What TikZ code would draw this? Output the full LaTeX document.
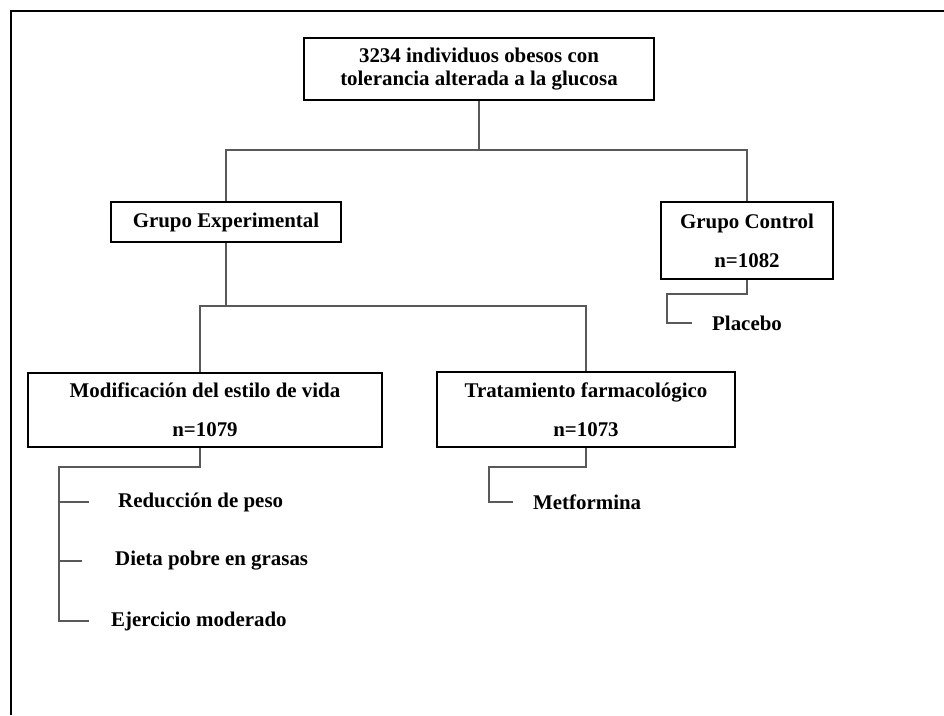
\documentclass[tikz,border=0pt]{standalone}
\usepackage{fontspec}
\setmainfont{Liberation Serif}
\begin{document}
\begin{tikzpicture}[x=1pt,y=-1pt,
 box/.style={draw=black,line width=2.2pt,fill=white,align=center,inner sep=0pt,font=\fontsize{20.9}{39}\selectfont\bfseries},
 conn/.style={draw=black!65,line width=1.3pt},
 lbl/.style={anchor=west,inner sep=0pt,font=\fontsize{20.9}{25}\selectfont\bfseries}]
\useasboundingbox (0,0) rectangle (944,715);
\draw[line width=2.5pt] (944,11) -- (11,11) -- (11,715);

\node[box,minimum width=350pt,minimum height=62pt,font=\fontsize{20.9}{23}\selectfont\bfseries] (top) at (479,69) {3234 individuos obesos con\\tolerancia alterada a la glucosa};
\node[box,minimum width=230pt,minimum height=40pt] (exp) at (226,222) {Grupo Experimental};
\node[box,minimum width=172pt,minimum height=77pt] (ctrl) at (747,240.5) {Grupo Control\\n=1082};
\node[box,minimum width=354pt,minimum height=74pt] (mod) at (205,410) {Modificación del estilo de vida\\n=1079};
\node[box,minimum width=298pt,minimum height=75pt] (trat) at (586,409.5) {Tratamiento farmacológico\\n=1073};

\node[lbl] (plac) at (712,323) {Placebo};
\node[lbl] (metf) at (533,502) {Metformina};
\node[lbl] (red) at (118,502) {Reducción de peso};
\node[lbl] (diet) at (115,561) {Dieta pobre en grasas};
\node[lbl] (ejer) at (111,621) {Ejercicio moderado};

\coordinate (j1) at (480,150);
\coordinate (j2) at (200,306);
\draw[conn] (top.south) -- (top.south |- j1);
\draw[conn] (exp.north) |- (j1) -| (ctrl.north);
\draw[conn] (exp.south) -- (exp.south |- j2);
\draw[conn] (mod.north -| j2) -- (j2) -| (trat.north);
\draw[conn] (ctrl.south) -- ++(0,14) -| ([xshift=-45pt]plac.west) -- ([xshift=-20pt]plac.west);
\draw[conn] (trat.south) -- ++(0,19) -| ([xshift=-44pt]metf.west) -- ([xshift=-20pt]metf.west);
\draw[conn] (mod.south -| j2) -- ++(0,19) -| ([xshift=-52pt]ejer.west) -- ([xshift=-22pt]ejer.west);
\draw[conn] ([xshift=-59pt]red.west) -- ([xshift=-29pt]red.west);
\draw[conn] ([xshift=-56pt]diet.west) -- ([xshift=-33pt]diet.west);
\end{tikzpicture}
\end{document}
